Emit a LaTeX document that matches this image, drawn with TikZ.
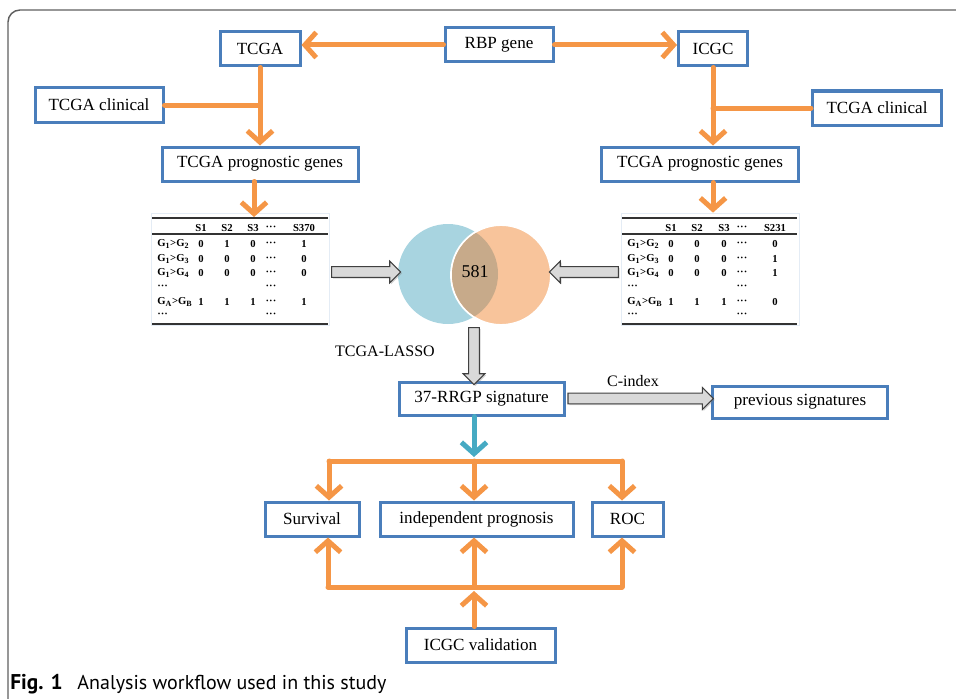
\documentclass[tikz,border=0pt]{standalone}
\usepackage{fontspec}
\setmainfont{Liberation Serif}
\newfontfamily\capfont{PT Sans}
\usetikzlibrary{arrows.meta,shapes.arrows,shadows}

\definecolor{boxblue}{RGB}{74,126,187}
\definecolor{flowor}{RGB}{245,150,70}
\definecolor{flowteal}{RGB}{70,170,195}
\definecolor{vennblue}{RGB}{168,212,224}
\definecolor{vennor}{RGB}{248,196,155}
\definecolor{venntan}{RGB}{199,170,138}
\definecolor{framegray}{RGB}{95,95,95}

\newcommand{\gpair}[2]{G\textsubscript{#1}>G\textsubscript{#2}}
\newcommand{\hdots}{\textperiodcentered\textperiodcentered\textperiodcentered}

\begin{document}
\begin{tikzpicture}[x=0.75pt,y=0.75pt]
	\tikzstyle{every node}+=[inner sep=0pt]
	\tikzstyle{box}=[draw=boxblue, line width=2.25pt, fill=white, minimum height=25.5pt, font=\fontsize{12.8}{15}\selectfont]
	\tikzstyle{orline}=[draw=flowor, line width=3.75pt, line cap=round]
	\tikzstyle{flow}=[orline, -{Straight Barb[length=8.5pt,width=19pt]}]
	\tikzstyle{grayarr}=[single arrow, draw=black!75, fill=gray!30, line width=0.8pt, inner ysep=3.6pt, single arrow head extend=4.2pt, drop shadow={shadow xshift=1pt, shadow yshift=-1pt, opacity=0.35}]
	\tikzstyle{cell}=[font=\fontsize{8}{9}\selectfont\bfseries]
	\tikzstyle{tabframe}=[draw=boxblue!15, line width=0.5pt]
	\tikzstyle{rule}=[draw=black!80, line width=1.2pt]
	\useasboundingbox (0,0) rectangle (956,-699);
	\clip (0,0) rectangle (956,-699);
	\draw [framegray, line width=1.1pt, rounded corners=9pt] (8,-720) -- (8,-10) -- (980,-10);
	\node[box, minimum width=60pt] (tcga) at (260,-49) {TCGA};
	\node[box, minimum width=81pt] (rbp) at (499,-45) {RBP gene};
	\node[box, minimum width=51.75pt] (icgc) at (713,-49) {ICGC};
	\node[box, minimum width=96pt] (clinL) at (99,-105) {TCGA clinical};
	\node[box, minimum width=96.75pt] (clinR) at (877,-108) {TCGA clinical};
	\node[box, minimum width=147pt] (progL) at (260,-164) {TCGA prognostic genes};
	\node[box, minimum width=147.75pt] (progR) at (700,-164) {TCGA prognostic genes};
	\draw [flow] (rbp.west) -- (rbp.west -| tcga.east);
	\draw [flow] (rbp.east) -- (rbp.east -| icgc.west);
	\draw [orline] (clinL.east) -- (clinL.east -| tcga.south);
	\draw [flow] (tcga.south) -- (progL.north);
	\draw [orline] (clinR.west) -- (clinR.west -| icgc.south);
	\draw [flow] (icgc.south) -- (icgc.south |- progR.north);
	\node[tabframe, minimum width=133.5pt, minimum height=84pt] (tabL) at (240,-269) {};
	\node[tabframe, minimum width=133.5pt, minimum height=84pt] (tabR) at (710,-269) {};
	\draw [flow] (254,-181.5) -- (254,-217);
	\draw [flow] (progR.south -| icgc.south) -- (tabR.north -| icgc.south);
	\draw [rule] (152,-218) -- (328,-218);
	\draw [rule, line width=0.9pt] (152,-234) -- (328,-234);
	\draw [rule] (152,-324) -- (328,-324);
	\draw [rule] (622,-218) -- (797,-218);
	\draw [rule, line width=0.9pt] (622,-234) -- (797,-234);
	\draw [rule] (622,-324) -- (797,-324);
	\foreach \x/\t in {201/S1, 227/S2, 253/S3, 271/\hdots, 304/S370}
		\node[cell] (hL\x) at (\x,-228) {\t};
	\foreach \y/\g/\a/\b/\c/\e in {244/{\gpair{1}{2}}/0/1/0/1, 259/{\gpair{1}{3}}/0/0/0/0, 273/{\gpair{1}{4}}/0/0/0/0, 302/{\gpair{A}{B}}/1/1/1/1}
	{
		\node[cell, anchor=west] (gL\y) at (157,-\y) {\g};
		\node[cell] (aL\y) at (201,-\y) {\a};
		\node[cell] (bL\y) at (227,-\y) {\b};
		\node[cell] (cL\y) at (253,-\y) {\c};
		\node[cell] (dL\y) at (271,-\y) {\hdots};
		\node[cell] (eL\y) at (304,-\y) {\e};
	}
	\foreach \y in {287,315}
	{
		\node[cell, anchor=west] (gL\y) at (157,-\y) {\hdots};
		\node[cell] (dL\y) at (271,-\y) {\hdots};
	}
	\foreach \x/\t in {671/S1, 697/S2, 724/S3, 742/\hdots, 775/S231}
		\node[cell] (hR\x) at (\x,-228) {\t};
	\foreach \y/\g/\a/\b/\c/\e in {244/{\gpair{1}{2}}/0/0/0/0, 259/{\gpair{1}{3}}/0/0/0/1, 273/{\gpair{1}{4}}/0/0/0/1, 302/{\gpair{A}{B}}/1/1/1/0}
	{
		\node[cell, anchor=west] (gR\y) at (627,-\y) {\g};
		\node[cell] (aR\y) at (671,-\y) {\a};
		\node[cell] (bR\y) at (697,-\y) {\b};
		\node[cell] (cR\y) at (724,-\y) {\c};
		\node[cell] (dR\y) at (742,-\y) {\hdots};
		\node[cell] (eR\y) at (775,-\y) {\e};
	}
	\foreach \y in {287,315}
	{
		\node[cell, anchor=west] (gR\y) at (627,-\y) {\hdots};
		\node[cell] (dR\y) at (742,-\y) {\hdots};
	}
	\node[circle, fill=vennblue, minimum size=75pt] (venA) at (448,-274) {};
	\node[circle, fill=vennor, draw=white, line width=1.4pt, minimum size=75pt] (venB) at (501,-275) {};
	\begin{scope}
		\clip (venA.center) circle (50);
		\fill [venntan] (venB.center) circle (49);
	\end{scope}
	\node[font=\fontsize{13.5}{15}\selectfont] (ovl) at (475,-272) {581};
	\node[grayarr, minimum height=51.75pt] (gaL) at (363.5,-272) {};
	\node[grayarr, minimum height=51.75pt, shape border rotate=180] (gaR) at (586.5,-272) {};
	\node[font=\fontsize{12}{14}\selectfont] (lasso) at (385,-351) {TCGA-LASSO};
	\node[box, minimum width=123.75pt, minimum height=24.75pt] (sig) at (481.5,-398.5) {37-RRGP signature};
	\node[box, minimum width=131.25pt, minimum height=24pt] (prev) at (800,-402) {previous signatures};
	\node[grayarr, minimum height=42.75pt, rotate=-90] (gaD) at (474,-353.5) {};
	\node[grayarr, minimum height=109pt] (gaC) at (638,-398.5) {};
	\node[font=\fontsize{12}{14}\selectfont] (cidx) at (633,-381) {C-index};
	\node[box, minimum width=70.5pt] (surv) at (312,-519) {Survival};
	\node[box, minimum width=144.75pt] (indep) at (476.5,-519) {independent prognosis};
	\node[box, minimum width=53.25pt] (roc) at (627.5,-519) {ROC};
	\node[box, minimum width=111.75pt] (valid) at (480.5,-645) {ICGC validation};
	\coordinate (split) at (474,-461);
	\coordinate (splitL) at (329,-461);
	\coordinate (splitR) at (622,-461);
	\coordinate (join) at (474,-587);
	\coordinate (joinL) at (328,-587);
	\coordinate (joinR) at (622,-587);
	\draw [flow, draw=flowteal] (sig.south -| split) -- ([yshift=3]split);
	\draw [orline] (splitL) -- (splitR);
	\draw [flow] (splitL) -- (splitL |- surv.north);
	\draw [flow] (split) -- (split |- indep.north);
	\draw [flow] (splitR) -- (splitR |- roc.north);
	\draw [orline] (joinL) -- (joinR);
	\draw [flow] (joinL) -- (joinL |- surv.south);
	\draw [flow] (join) -- (join |- indep.south);
	\draw [flow] (joinR) -- (joinR |- roc.south);
	\draw [flow] (valid.north -| join) -- ([yshift=-3]join);
	\node[anchor=base west, font=\capfont\fontsize{15}{18}\selectfont] (cap) at (10,-689) {\textbf{\fontsize{16}{18}\selectfont Fig. 1}\hspace{11pt}Analysis workflow used in this study};
\end{tikzpicture}
\end{document}
